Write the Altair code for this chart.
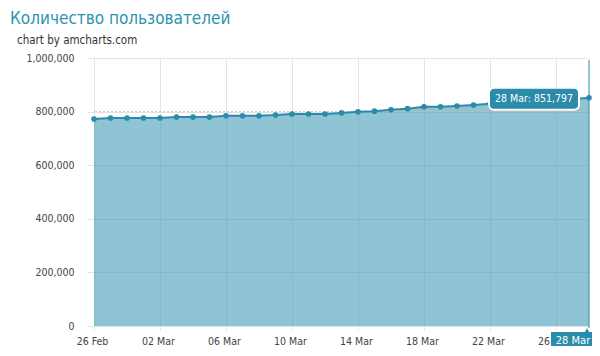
import altair as alt
import pandas as pd

# ---- data ----
dates = pd.date_range("2011-02-26", "2011-03-28", freq="D")
users = [772500, 776000, 776000, 776000, 776000, 779500, 779500, 779500,
         784500, 784500, 784500, 787000, 791000, 791000, 791000, 795000,
         799000, 801500, 807000, 811000, 818000, 818000, 821000, 824500,
         829000, 833000, 836500, 840000, 843000, 846000, 851797]
y_ticks = [0, 200000, 400000, 600000, 800000, 1000000]
x_ticks = ["2011-02-26", "2011-03-02", "2011-03-06", "2011-03-10",
           "2011-03-14", "2011-03-18", "2011-03-22", "2011-03-26"]
title_text = "Количество пользователей"
subtitle_text = "chart by amcharts.com"

df = pd.DataFrame({"date": dates, "users": users})
last = pd.DataFrame({
    "date": [dates[-1]],
    "users": [users[-1]],
    "label": [f"{dates[-1]:%d %b}: {users[-1]:,}"],
    "xlabel": [f"{dates[-1]:%d %b}"],
})

TEAL = "#2a8bab"
FONT = "DejaVu Sans Condensed"
GRID = "#e4e4e4"
W, H = 495, 268

yscale = alt.Scale(domain=[0, 1000000], nice=False)

x_enc = alt.X("date:T",
              scale=alt.Scale(domain=[dates[0].isoformat(), dates[-1].isoformat()]),
              axis=alt.Axis(values=[pd.Timestamp(d).isoformat() for d in x_ticks],
                            format="%d %b", title=None, grid=True,
                            gridColor=GRID, domain=False, labelFlush=False,
                            tickSize=4, tickColor=GRID, labelPadding=6,
                            labelOffset=-2,
                            labelFont=FONT, labelFontSize=10.5,
                            labelColor="#444444", labelAngle=0))
y_enc = alt.Y("users:Q", scale=yscale,
              axis=alt.Axis(values=y_ticks, format=",d", title=None,
                            grid=True, gridColor=GRID, domain=False,
                            tickSize=7, tickColor=GRID, labelPadding=13,
                            labelFont=FONT, labelFontSize=10.5,
                            labelColor="#444444"))

base = alt.Chart(df)

area = base.mark_area(color="#449db7", opacity=0.6).encode(x=x_enc, y=y_enc)

guide = alt.Chart(pd.DataFrame({"users": [800000]})).mark_rule(
    color="#f0b08c", strokeDash=[2, 2], strokeWidth=1, opacity=0.8
).encode(y="users:Q")

line = base.mark_line(color=TEAL, strokeWidth=2).encode(x="date:T", y="users:Q")
pts = base.mark_circle(color=TEAL, size=32, opacity=1).encode(x="date:T", y="users:Q")

lbase = alt.Chart(last)
cursor = lbase.mark_rule(color=TEAL, strokeWidth=1).encode(
    x="date:T", y=alt.value(2), y2=alt.value(H + 2))

tip_box = lbase.mark_rect(width=90, height=22, cornerRadius=5, color=TEAL,
                          stroke="white", strokeWidth=2, xOffset=-55, yOffset=1
                          ).encode(x="date:T", y="users:Q")
tip_text = lbase.mark_text(color="white", font=FONT, fontSize=10.5,
                           xOffset=-55, yOffset=1).encode(
    x="date:T", y="users:Q", text="label:N")

xbox = lbase.mark_rect(width=46, height=24, color=TEAL, xOffset=-15).encode(
    x="date:T", y=alt.value(H + 18))
xarrow = lbase.mark_point(shape="triangle-up", filled=True, color=TEAL,
                          size=40, opacity=1, xOffset=-2).encode(
    x="date:T", y=alt.value(H + 5))
xtext = lbase.mark_text(color="white", font=FONT, fontSize=11,
                        xOffset=-16).encode(
    x="date:T", y=alt.value(H + 15), text="xlabel:N")

title = alt.Chart(pd.DataFrame({"t": [title_text]})).mark_text(
    align="left", baseline="alphabetic", font=FONT, fontSize=17,
    color="#2a95b0").encode(x=alt.value(-84), y=alt.value(-34), text="t:N")
subtitle = alt.Chart(pd.DataFrame({"t": [subtitle_text]})).mark_text(
    align="left", baseline="alphabetic", font=FONT, fontSize=11.5,
    color="#333333").encode(x=alt.value(-77), y=alt.value(-14), text="t:N")

chart = alt.layer(area, guide, line, pts, cursor, tip_box, tip_text,
                  xbox, xarrow, xtext, title, subtitle).properties(
    width=W, height=H,
    autosize=alt.AutoSizeParams(type="none"),
    padding={"left": 86, "top": 50, "right": 3, "bottom": 20},
).configure_view(stroke=None)

chart.save("out.html", embed_options={"renderer": "svg", "actions": False})
